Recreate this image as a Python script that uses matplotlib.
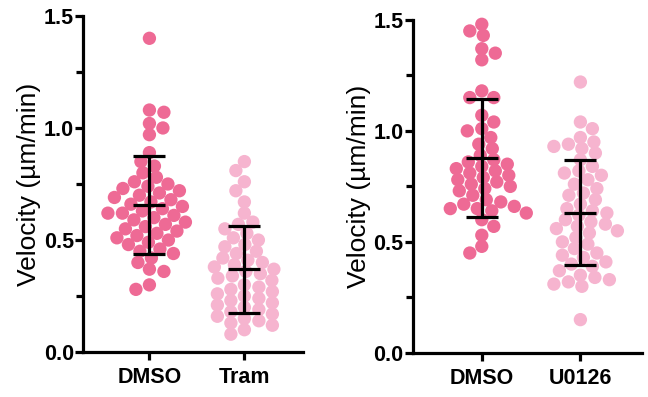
import numpy as np
import matplotlib
matplotlib.use('Agg')
import matplotlib.pyplot as plt
from matplotlib.ticker import MultipleLocator

plt.rcParams['font.family'] = ['Liberation Sans', 'DejaVu Sans']

categories_left = ['DMSO', 'Tram']
categories_right = ['DMSO', 'U0126']

dmso_left = [1.40, 1.08, 1.07, 1.02, 1.00, 0.97, 0.89, 0.85, 0.83, 0.80, 0.78, 0.76,
             0.75, 0.74, 0.73, 0.72, 0.71, 0.70, 0.69, 0.68, 0.67, 0.66, 0.65, 0.64,
             0.63, 0.62, 0.62, 0.61, 0.60, 0.59, 0.58, 0.57, 0.56, 0.55, 0.54, 0.53,
             0.52, 0.51, 0.50, 0.49, 0.48, 0.46, 0.45, 0.44, 0.42, 0.40, 0.37, 0.36,
             0.30, 0.28]
tram = [0.85, 0.81, 0.76, 0.72, 0.67, 0.62, 0.58, 0.57, 0.55, 0.53, 0.51, 0.50,
        0.48, 0.47, 0.45, 0.44, 0.42, 0.41, 0.40, 0.39, 0.38, 0.37, 0.36, 0.35,
        0.34, 0.33, 0.32, 0.30, 0.29, 0.28, 0.27, 0.26, 0.25, 0.24, 0.23, 0.22,
        0.21, 0.20, 0.19, 0.18, 0.17, 0.16, 0.15, 0.14, 0.13, 0.12, 0.10, 0.08]
dmso_right = [1.48, 1.45, 1.43, 1.37, 1.35, 1.32, 1.18, 1.15, 1.15, 1.07, 1.04, 1.01,
              1.00, 0.97, 0.94, 0.92, 0.89, 0.87, 0.86, 0.85, 0.84, 0.83, 0.82, 0.81,
              0.80, 0.79, 0.78, 0.77, 0.76, 0.75, 0.74, 0.73, 0.71, 0.69, 0.68, 0.67,
              0.66, 0.65, 0.65, 0.64, 0.63, 0.60, 0.57, 0.53, 0.48, 0.45]
u0126 = [1.22, 1.04, 1.01, 0.97, 0.95, 0.94, 0.93, 0.92, 0.90, 0.87, 0.84, 0.82,
         0.81, 0.80, 0.78, 0.76, 0.74, 0.72, 0.71, 0.69, 0.67, 0.65, 0.64, 0.63,
         0.62, 0.60, 0.59, 0.58, 0.57, 0.56, 0.55, 0.54, 0.52, 0.50, 0.49, 0.47,
         0.45, 0.44, 0.43, 0.41, 0.40, 0.39, 0.37, 0.35, 0.34, 0.33, 0.32, 0.31,
         0.30, 0.15]

dark = '#EE6A95'
light = '#F6B4CF'

W, H, DPI = 6.48, 3.97, 100
fig = plt.figure(figsize=(W, H), dpi=DPI)

XLIM = (-0.7, 1.62)
YLIM = (0, 1.5)


def swarm_offsets(vals, px_x, px_y, rx=14.5, ry=11.0):
    """Beeswarm with an elliptical exclusion zone (pixel units)."""
    vals = np.asarray(vals)
    order = np.argsort(-vals, kind='stable')
    placed = []
    offs = np.zeros(len(vals))
    step = 0.5
    for n_i, i in enumerate(order):
        y = vals[i] * px_y
        k = 0
        while True:
            if k == 0:
                cands = [0.0]
            else:
                cands = [k * step, -k * step] if n_i % 2 == 0 else [-k * step, k * step]
            found = None
            for c in cands:
                if all(((c - px) / rx) ** 2 + ((y - py) / ry) ** 2 >= 1.0
                       for px, py in placed):
                    found = c
                    break
            if found is not None:
                break
            k += 1
        placed.append((found, y))
        offs[i] = found / px_x
    return offs


def panel(rect, groups, cats, cols):
    ax = fig.add_axes(rect)
    ax.set_xlim(*XLIM)
    ax.set_ylim(*YLIM)
    px_x = rect[2] * W * DPI / (XLIM[1] - XLIM[0])
    px_y = rect[3] * H * DPI / (YLIM[1] - YLIM[0])
    for i, (vals, c) in enumerate(zip(groups, cols)):
        offs = swarm_offsets(vals, px_x, px_y)
        ax.scatter(i + offs, vals, s=92, color=c, edgecolors='none', zorder=2,
                   clip_on=False)
        m = np.mean(vals)
        sd = np.std(vals, ddof=1)
        ax.errorbar([i], [m], yerr=[sd], fmt='none', ecolor='black', elinewidth=2.3,
                    capsize=11.5, capthick=2.3, zorder=3)
        ax.plot([i], [m], marker='_', markersize=23, mew=2.3, color='black', zorder=3)
    ax.spines['top'].set_visible(False)
    ax.spines['right'].set_visible(False)
    ax.spines['left'].set_linewidth(2.3)
    ax.spines['bottom'].set_linewidth(2.3)
    ax.set_xticks(range(len(cats)))
    ax.set_xticklabels(cats, fontsize=15.5, fontweight='bold')
    ax.yaxis.set_major_locator(MultipleLocator(0.5))
    ax.yaxis.set_minor_locator(MultipleLocator(0.25))
    ax.set_yticklabels([f'{v:.1f}' for v in ax.get_yticks()], fontsize=15.5,
                       fontweight='bold')
    ax.tick_params(axis='y', which='major', length=5.5, width=2.3, pad=1)
    ax.tick_params(axis='y', which='minor', length=5, width=2.3)
    ax.tick_params(axis='x', which='major', length=6, width=2.3, pad=5)
    ax.set_ylabel('Velocity (µm/min)', fontsize=19, labelpad=2)
    return ax


panel([0.128, 0.113, 0.34, 0.847], [dmso_left, tram], categories_left, [dark, light])
panel([0.637, 0.111, 0.353, 0.839], [dmso_right, u0126], categories_right, [dark, light])

fig.savefig('out.png', dpi=DPI)
